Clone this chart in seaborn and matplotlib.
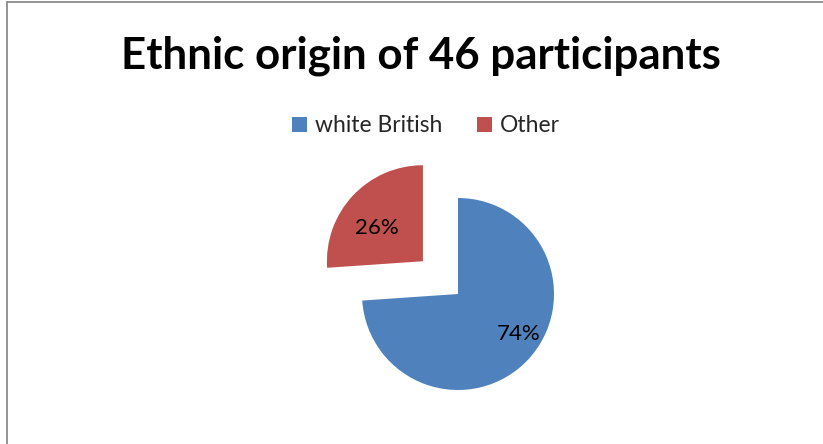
import matplotlib
matplotlib.use("Agg")
import matplotlib.pyplot as plt
import seaborn as sns
from matplotlib.lines import Line2D
from matplotlib.patches import Patch

# --- data ---
categories = ["white British", "Other"]
counts = [34, 12]          # 46 participants -> 74% / 26%
colors = ["#4F81BD", "#C0504D"]
title = "Ethnic origin of 46 participants"

sns.set_theme(style="white")
plt.rcParams['font.family'] = ['Lato', 'DejaVu Sans']

fig = plt.figure(figsize=(8.23, 4.44), dpi=100)
ax = fig.add_axes([0, 0, 1, 1])

# pie centred at (458, 294) px, radius ~96 px
r_px = 96
cx, cy = 458 / 823, 1 - 294 / 444
ax.set_position([cx - r_px / 823, cy - r_px / 444, 2 * r_px / 823, 2 * r_px / 444])

wedges, texts, autotexts = ax.pie(
    counts, colors=colors, startangle=90, counterclock=False,
    explode=[0, 0.5], autopct='%.0f%%', pctdistance=0.68,
    textprops=dict(fontsize=16, color='black'),
    wedgeprops=dict(linewidth=0),
)
# nudge the labels to where the original places them
x0, y0 = autotexts[0].get_position()
autotexts[0].set_position((x0 * 1.28, y0 * 0.9))
x1, y1 = autotexts[1].get_position()
autotexts[1].set_position((x1 * 0.98, y1 * 0.85))
ax.set_xlim(-1, 1)
ax.set_ylim(-1, 1)
ax.set_aspect('equal', adjustable='datalim')
ax.axis('off')

fig.text(421 / 823, 1 - 56 / 444, title, ha='center', va='center',
         fontsize=31.6, fontweight='bold', color='black')

handles = [Patch(facecolor=c, edgecolor='none') for c in colors]
fig.legend(handles, categories, loc='center', bbox_to_anchor=(426 / 823, 1 - 126 / 444),
           ncol=2, frameon=False, fontsize=16.5, handlelength=0.65, handleheight=0.65,
           handletextpad=0.35, columnspacing=1.5)

# chart border (only top and left edges visible in the crop)
fig.add_artist(Line2D([6.5 / 823, 1], [1 - 2.5 / 444] * 2, color='#8c8c8c', lw=1.3,
                      transform=fig.transFigure))
fig.add_artist(Line2D([6.5 / 823] * 2, [0, 1 - 2.5 / 444], color='#8c8c8c', lw=1.3,
                      transform=fig.transFigure))

fig.savefig("out.png", dpi=100)
